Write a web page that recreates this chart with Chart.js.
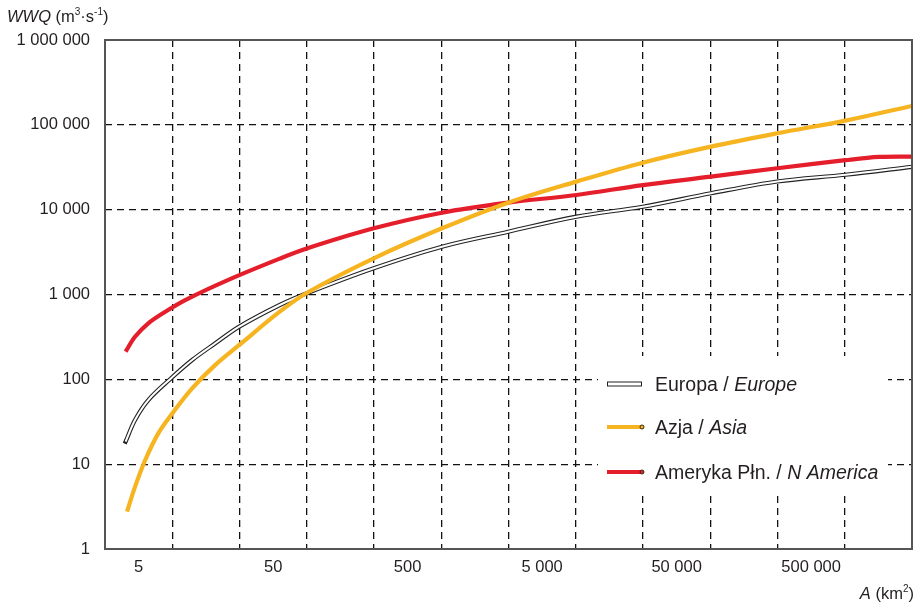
<!DOCTYPE html>
<html>
<head>
<meta charset="utf-8">
<script src="https://cdn.jsdelivr.net/npm/chart.js@4.4.1/dist/chart.umd.min.js"></script>
<style>
  html, body { margin: 0; padding: 0; background: #fff; }
</style>
</head>
<body>
<canvas id="chart" width="918" height="603"></canvas>
<script>
// ---- data: catchment area A (km2) vs. WWQ (m3/s) ----
const europeA = [4, 4.7, 5.9, 8.6, 12.5, 18.6, 28, 56, 90, 280, 900, 2800, 9000, 28000, 90000, 280000, 900000, 2800000];
const europeQ = [18.4, 33.2, 57, 101, 169, 266, 418, 752, 1042, 2040, 3660, 5500, 8270, 10840, 15600, 21500, 25800, 32000];

const asiaA = [4.1, 4.7, 5.6, 7, 9.1, 12.5, 18.6, 28, 56, 90, 280, 900, 2800, 9000, 28000, 90000, 280000, 900000, 2800000];
const asiaQ = [2.75, 5.4, 11.2, 23.1, 41.6, 78.4, 148, 254, 627, 1056, 2670, 6030, 12100, 21400, 35800, 55300, 79500, 112000, 167000];

const americaA = [4, 4.7, 5.9, 7.9, 11.1, 23, 56, 90, 280, 900, 2800, 9000, 28000, 90000, 280000, 900000, 1600000, 2800000];
const americaQ = [212, 318, 458, 627, 861, 1480, 2650, 3510, 6030, 9210, 12100, 14900, 19500, 24500, 30800, 38300, 41800, 42300];

const seriesPl = ["Europa", "Azja", "Ameryka Płn."];
const seriesEn = ["Europe", "Asia", "N America"];

const xLabelValues = [5, 50, 500, 5000, 50000, 500000];
const yTickValues = [1, 10, 100, 1000, 10000, 100000, 1000000];

const ORANGE = "#F6B421";
const RED = "#E41E2B";
const FONT = "'Liberation Sans', Arial, sans-serif";
const TEXT = "#231F20";

// vertical grid every half decade, offset a quarter decade from the labels
const xGridValues = [];
for (let k = 0; k <= 12; k++) {
    xGridValues.push(xLabelValues[0] * Math.pow(10, k / 2 - 0.25));
}
const xMin = xGridValues[0];
const xMax = xGridValues[xGridValues.length - 1];

const toPoints = (xs, ys) => xs.map((x, i) => ({ x: x, y: ys[i] }));
const spaced = v => String(Math.round(v)).replace(/\B(?=(\d{3})+(?!\d))/g, " ");

// ---- plugin: frame, legend box, axis titles ----
const decor = {
    id: "decor",
    beforeDatasetsDraw(chart) {
        const ctx = chart.ctx;
        ctx.save();
        ctx.fillStyle = "#fff";
        ctx.fillRect(598, 356, 290, 138);

        const rows = [384, 427, 472];
        // Europe: hollow double line
        ctx.fillStyle = "#fff";
        ctx.strokeStyle = "#222";
        ctx.lineWidth = 1;
        ctx.fillRect(607.5, 382, 34, 4);
        ctx.strokeRect(607.5, 382, 34, 4);

        [[ORANGE, rows[1]], [RED, rows[2]]].forEach(([c, y]) => {
            ctx.strokeStyle = c;
            ctx.lineWidth = 4;
            ctx.beginPath();
            ctx.moveTo(607, y);
            ctx.lineTo(641, y);
            ctx.stroke();
            ctx.beginPath();
            ctx.arc(642, y, 2, 0, Math.PI * 2);
            ctx.fillStyle = c;
            ctx.fill();
            ctx.strokeStyle = "#3a2a10";
            ctx.lineWidth = 1;
            ctx.stroke();
        });

        ctx.fillStyle = TEXT;
        ctx.textBaseline = "alphabetic";
        seriesPl.forEach((name, i) => {
            const y = rows[i] + 7;
            ctx.font = "19.5px " + FONT;
            const head = name + " / ";
            ctx.fillText(head, 655, y);
            const w = ctx.measureText(head).width;
            ctx.font = "italic 19.5px " + FONT;
            ctx.fillText(seriesEn[i], 655 + w, y);
        });
        ctx.restore();
    },
    afterDraw(chart) {
        const ctx = chart.ctx;
        const a = chart.chartArea;
        ctx.save();
        ctx.setLineDash([]);
        ctx.strokeStyle = "#555";
        ctx.lineWidth = 2;
        ctx.strokeRect(a.left, a.top, a.right - a.left, a.bottom - a.top);

        // rich text with italic symbol and superscripts
        const pieces = (parts, x, y, measureOnly) => {
            let cx = x;
            parts.forEach(p => {
                ctx.font = p.font;
                if (!measureOnly) ctx.fillText(p.t, cx, y + (p.dy || 0));
                cx += ctx.measureText(p.t).width;
            });
            return cx - x;
        };
        ctx.fillStyle = TEXT;
        ctx.textBaseline = "alphabetic";
        ctx.textAlign = "left";

        const yTitle = [
            { t: "WWQ", font: "italic 16.5px " + FONT },
            { t: " (m", font: "16.5px " + FONT },
            { t: "3", font: "10px " + FONT, dy: -7 },
            { t: "·s", font: "16.5px " + FONT },
            { t: "-1", font: "10px " + FONT, dy: -7 },
            { t: ")", font: "16.5px " + FONT }
        ];
        pieces(yTitle, 7, 22, false);

        const xTitle = [
            { t: "A", font: "italic 16.5px " + FONT },
            { t: " (km", font: "16.5px " + FONT },
            { t: "2", font: "10px " + FONT, dy: -7 },
            { t: ")", font: "16.5px " + FONT }
        ];
        const w = pieces(xTitle, 0, 0, true);
        pieces(xTitle, 914 - w, 599, false);
        ctx.restore();
    }
};

const dash = [7, 5];

new Chart(document.getElementById("chart"), {
    type: "line",
    data: {
        datasets: [
            {
                label: seriesEn[1],
                data: toPoints(asiaA, asiaQ),
                borderColor: ORANGE,
                borderWidth: 4.2,
                order: 1
            },
            {
                label: seriesEn[0],
                data: toPoints(europeA, europeQ),
                borderColor: "#fff",
                borderWidth: 2,
                order: 2
            },
            {
                label: seriesEn[0] + " outline",
                data: toPoints(europeA, europeQ),
                borderColor: "#222",
                borderWidth: 4.2,
                borderCapStyle: "square",
                order: 3
            },
            {
                label: seriesEn[2],
                data: toPoints(americaA, americaQ),
                borderColor: RED,
                borderWidth: 4.2,
                order: 4
            }
        ]
    },
    options: {
        responsive: false,
        animation: false,
        devicePixelRatio: 1,
        layout: { padding: { top: 40, right: 6, bottom: 0, left: 0 } },
        elements: {
            point: { radius: 0 },
            line: { tension: 0.35, fill: false, borderCapStyle: "butt", borderJoinStyle: "round" }
        },
        plugins: {
            legend: { display: false },
            tooltip: { enabled: false }
        },
        scales: {
            x: {
                type: "logarithmic",
                min: xMin,
                max: xMax,
                afterBuildTicks(scale) {
                    const t = xGridValues.map(v => ({ value: v, grid: true }))
                        .concat(xLabelValues.map(v => ({ value: v, grid: false })));
                    t.sort((p, q) => p.value - q.value);
                    scale.ticks = t;
                },
                afterFit(scale) {
                    scale.height = 54;
                    scale.paddingLeft = 0;
                    scale.paddingRight = 0;
                },
                grid: {
                    drawTicks: false,
                    lineWidth: 1.3,
                    color: c => {
                        const t = c.tick;
                        if (!t || !t.grid) return "transparent";
                        if (t.value === xMin || t.value === xMax) return "transparent";
                        return "#111";
                    }
                },
                border: { display: false, dash: dash },
                ticks: {
                    autoSkip: false,
                    maxRotation: 0,
                    padding: 9,
                    color: TEXT,
                    font: { family: FONT, size: 16.5 },
                    callback: function (value, index, ticks) {
                        return ticks[index].grid ? "" : spaced(value);
                    }
                }
            },
            y: {
                type: "logarithmic",
                min: 1,
                max: 1000000,
                afterBuildTicks(scale) {
                    scale.ticks = yTickValues.map(v => ({ value: v }));
                },
                afterFit(scale) { scale.width = 105; },
                grid: {
                    drawTicks: false,
                    lineWidth: 1.3,
                    color: c => {
                        const t = c.tick;
                        if (!t || t.value === 1 || t.value === 1000000) return "transparent";
                        return "#111";
                    }
                },
                border: { display: false, dash: dash },
                ticks: {
                    padding: 15,
                    color: TEXT,
                    font: { family: FONT, size: 16.5 },
                    callback: value => spaced(value)
                }
            }
        }
    },
    plugins: [decor]
});
</script>
</body>
</html>
